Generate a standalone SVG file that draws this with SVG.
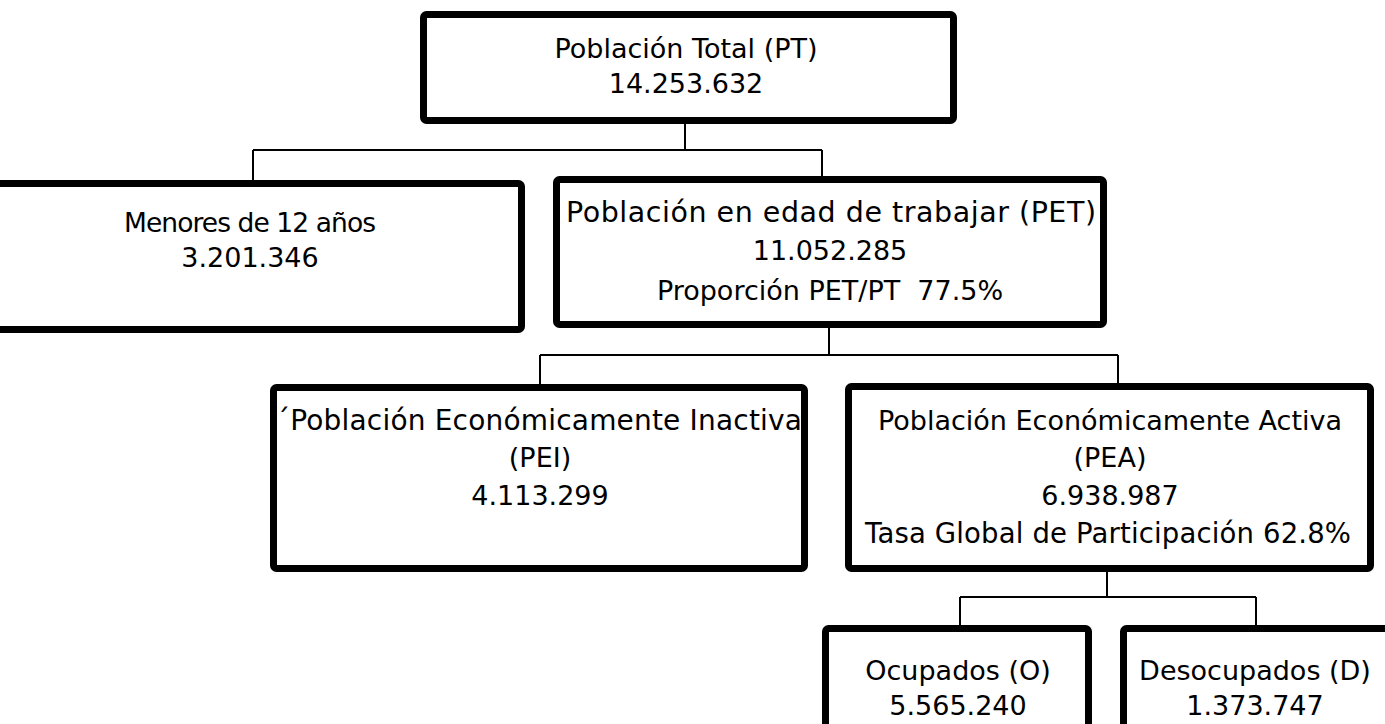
<svg xmlns="http://www.w3.org/2000/svg" width="1385" height="724" viewBox="0 0 1385 724">
<style>
.box{fill:#fff;stroke:#000;stroke-width:7;stroke-linejoin:round}
.t{font-family:"DejaVu Sans","Liberation Sans",sans-serif;font-size:27px;fill:#000;text-anchor:middle}
.c{fill:none;stroke:#000;stroke-width:2}
</style>
<rect width="1385" height="724" fill="#fff"/>
<g id="connectors">
<path class="c" d="M685 124V150M253 150H822M253 150V181M822 150V176"/>
<path class="c" d="M829 328V355M540 355H1118M540 355V385M1118 355V383"/>
<path class="c" d="M1107 572V597M960 597H1256M960 597V627M1256 597V627"/>
</g>
<g id="pt">
<rect class="box" x="423.5" y="14.5" width="530" height="106" rx="3"/>
<text class="t" x="686" y="58">Población Total (PT)</text>
<text class="t" x="686" y="93">14.253.632</text>
</g>
<g id="menores">
<rect class="box" x="-8.5" y="183.5" width="530" height="146" rx="3"/>
<text class="t" x="250" y="232" style="font-size:26.5px" textLength="252" lengthAdjust="spacing">Menores de 12 años</text>
<text class="t" x="250" y="267">3.201.346</text>
</g>
<g id="pet">
<rect class="box" x="556.5" y="179.5" width="547" height="145" rx="3"/>
<text class="t" x="831" y="222" style="font-size:28.5px" textLength="530" lengthAdjust="spacing">Población en edad de trabajar (PET)</text>
<text class="t" x="830" y="260">11.052.285</text>
<text class="t" x="830" y="300">Proporción PET/PT&#160; 77.5%</text>
</g>
<g id="pei">
<rect class="box" x="273.5" y="387.5" width="531" height="181" rx="3"/>
<text class="t" x="539" y="430" style="font-size:28px" textLength="526" lengthAdjust="spacing">´Población Económicamente Inactiva</text>
<text class="t" x="540" y="467">(PEI)</text>
<text class="t" x="540" y="505">4.113.299</text>
</g>
<g id="pea">
<rect class="box" x="848.5" y="386.5" width="522" height="182" rx="3"/>
<text class="t" x="1110" y="430">Población Económicamente Activa</text>
<text class="t" x="1110" y="467">(PEA)</text>
<text class="t" x="1110" y="505">6.938.987</text>
<text class="t" x="1108" y="543" style="font-size:27.5px" textLength="486" lengthAdjust="spacing">Tasa Global de Participación 62.8%</text>
</g>
<g id="ocupados">
<rect class="box" x="825.5" y="628.5" width="263" height="110" rx="3"/>
<text class="t" x="958" y="680">Ocupados (O)</text>
<text class="t" x="958" y="715">5.565.240</text>
</g>
<g id="desocupados">
<rect class="box" x="1123.5" y="628.5" width="265" height="110" rx="3"/>
<text class="t" x="1255" y="680">Desocupados (D)</text>
<text class="t" x="1255" y="715">1.373.747</text>
</g>
</svg>
